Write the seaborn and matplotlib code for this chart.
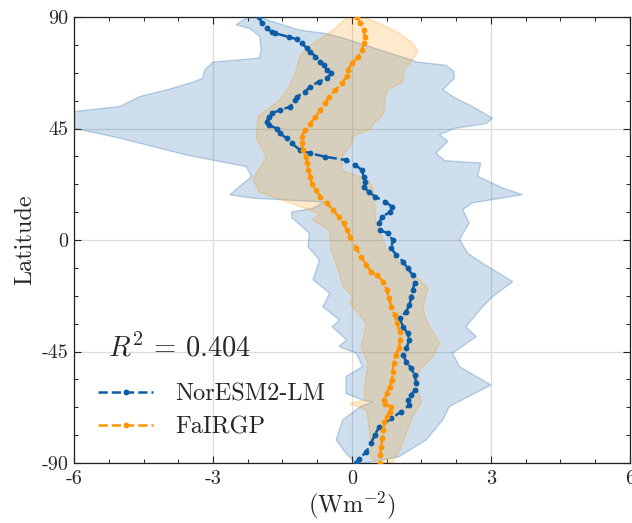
import numpy as np
import matplotlib
matplotlib.use("Agg")
import matplotlib.pyplot as plt
import seaborn as sns
from matplotlib.ticker import AutoMinorLocator

# ---------------- data ----------------
lat_nor = [90, 87.4, 85.4, 84, 83.4, 82, 81, 79.4, 77.3, 76, 74, 72, 70.6, 68.6, 67.3,
           65.2, 63.9, 61.9, 59.9, 57.8, 56.5, 53.8, 52.5, 51.1, 49.8, 47.8, 46.4, 45, 43,
           41, 39, 36.3, 35, 33.6, 32.3, 30.2, 28.2, 25.5, 23.5, 21.5, 19.5, 17.5, 15.4,
           13.4, 11.4, 9.4, 6.7, 4, 2.7, 0, -3.4, -6, -8.7, -11.4, -14.1, -17.5, -20.2,
           -22.9, -26.2, -28.9, -31.6, -35, -37.7, -40.4, -43.7, -46.4, -49.1, -51.8,
           -54.5, -57.9, -60.6, -62.6, -64.6, -66.6, -69.3, -72, -75.4, -78.7, -82.1,
           -85.5, -88.2, -90]
val_nor = [-2.0, -1.95, -1.84, -1.73, -1.66, -1.37, -1.19, -1.08, -0.97, -0.9, -0.79,
           -0.68, -0.61, -0.54, -0.45, -0.54, -0.72, -0.9, -1.01, -1.19, -1.23, -1.33,
           -1.55, -1.73, -1.8, -1.84, -1.8, -1.62, -1.55, -1.41, -1.3, -1.12, -0.9, -0.58,
           -0.14, 0.07, 0.22, 0.25, 0.29, 0.25, 0.36, 0.5, 0.72, 0.87, 0.83, 0.65, 0.58,
           0.61, 0.77, 0.88, 0.85, 0.95, 1.1, 1.2, 1.31, 1.35, 1.31, 1.28, 1.24, 1.17,
           1.03, 1.1, 1.2, 1.24, 1.17, 1.1, 1.17, 1.28, 1.35, 1.39, 1.35, 1.28, 1.2, 1.24,
           1.06, 0.85, 0.59, 0.49, 0.41, 0.31, 0.16, 0.08]

lat_fair = [90, 87.4, 84.8, 82, 79.4, 76.7, 74, 71.3, 68.6, 66, 63.2, 60.5, 57.8, 55.1,
            52.5, 49.8, 47, 44.4, 41.7, 39, 36.3, 33.6, 30.9, 28.2, 25.5, 22.8, 20.2, 17.5,
            14.8, 12.1, 9.4, 6.7, 4, 1.3, -3.4, -6.7, -10.1, -12.8, -14.1, -16.8, -20.2,
            -23.6, -26.9, -30.3, -33.6, -37, -40.4, -43.7, -46.4, -49.8, -53.2, -56.5,
            -59.2, -61.9, -64.6, -66, -67.3, -69.3, -71.3, -73.4, -76.7, -80.1, -83.4,
            -86.8, -90]
val_fair = [0.11, 0.18, 0.25, 0.27, 0.25, 0.22, 0.14, 0.0, -0.09, -0.11, -0.22, -0.36,
            -0.5, -0.58, -0.68, -0.79, -0.9, -1.02, -1.08, -1.08, -1.05, -1.0, -0.97, -0.94,
            -0.9, -0.87, -0.78, -0.68, -0.54, -0.4, -0.29, -0.18, -0.11, -0.04, 0.09, 0.2,
            0.31, 0.41, 0.54, 0.67, 0.75, 0.8, 0.85, 0.92, 0.97, 1.03, 1.04, 1.01, 0.94,
            0.9, 0.88, 0.86, 0.81, 0.75, 0.7, 0.72, 0.85, 0.81, 0.75, 0.7, 0.67, 0.65,
            0.63, 0.61, 0.61]

# NorESM2-LM spread (lower / upper edge)
nor_lo_lat = [90, 88.8, 86.8, 85.4, 82.1, 76.7, 73.4, 71.8, 68.6, 65.3, 63.9, 60.6, 57.9,
              53.9, 51.8, 48.5, 45.1, 41.1, 34.3, 29.6, 25.6, 18.2, 16.9, 15.3, 12.8, 11.3,
              9, 8.1, 2.7, -2.7, -8.1, -16.1, -21.5, -26.9, -32.3, -35, -40.3, -43, -45.7,
              -51.1, -55.1, -61.9, -64.6, -65.5, -67, -72.6, -80.7, -86.1, -90]
nor_lo_val = [-2.2, -2.35, -2.5, -2.21, -1.99, -1.96, -2.0, -3.0, -3.18, -3.22, -3.4,
              -4.0, -4.58, -5.01, -6.0, -6.3, -6.0, -5.01, -3.57, -2.28, -2.17, -2.64,
              -2.14, -0.6, -0.85, -1.3, -1.3, -1.24, -0.92, -0.95, -0.7, -0.84, -0.48,
              -0.63, -0.27, -0.43, -0.12, -0.28, 0.09, 0.23, -0.13, -0.13, 0.23, 0.45,
              0.2, -0.2, -0.34, -0.13, 0.09]
nor_hi_lat = [90, 88.8, 84.7, 83.3, 81.6, 77, 72.5, 71.9, 70.5, 68, 65.3, 60.6, 57.2,
              53.9, 49.2, 47, 45, 42.5, 39.8, 35.1, 32, 31.1, 25.7, 21, 18.3, 15, 12.3, 6.9,
              0.2, -5.4, -9.4, -16.8, -22.9, -26.9, -35, -39, -45.7, -51.1, -58.5, -67.2,
              -72.6, -80.7, -87.4, -90]
nor_hi_val = [-1.95, -1.83, -1.13, -0.56, -0.2, 0.55, 1.31, 1.38, 2.03, 2.2, 2.21, 1.96,
              2.24, 2.6, 3.03, 2.9, 2.2, 1.89, 2.07, 1.81, 2.0, 2.78, 2.71, 3.25, 3.68, 2.6,
              2.39, 2.53, 2.32, 2.5, 2.82, 3.47, 3.03, 2.82, 2.46, 2.68, 2.17, 2.32, 3.0,
              2.1, 1.96, 1.6, 1.02, 0.3]

# FaIRGP spread (lower / upper edge)
fair_lo_lat = [90, 84.6, 79.4, 74, 68.6, 61.9, 56.5, 49.8, 41.4, 33.3, 24.6, 19.3,
               14.6, 10.6, 8.1, 4, -4, -13.5, -18.8, -22.9, -25.5, -33.6, -43.1, -49.8,
               -60.6, -64.6, -66, -68.6, -76.7, -87.5, -90]
fair_lo_val = [-0.09, -0.41, -0.84, -1.13, -1.2, -1.35, -1.56, -2.03, -2.07, -1.85,
               -2.14, -1.99, -1.28, -0.7, -0.85, -0.49, -0.45, -0.27, -0.2, 0.02, -0.05,
               0.31, 0.2, 0.34, 0.27, 0.27, -0.05, 0.31, 0.38, 0.41, 0.52]
fair_hi_lat = [90, 87.5, 83.5, 79.4, 76.1, 72.7, 68.6, 64, 60.6, 57.8, 54, 51.1,
               47.9, 44.4, 41.9, 39, 33.8, 28.2, 24.2, 20.2, 13.4, 6.7, 4, -4, -9.4, -16.2,
               -19.5, -26.9, -32.3, -41.7, -47.1, -52.5, -59.2, -65.9, -71.3, -78, -84.8,
               -90]
fair_hi_val = [0.23, 0.59, 1.02, 1.31, 1.42, 1.31, 1.13, 1.1, 0.77, 0.72, 0.7, 0.69,
               0.52, 0.36, 0.02, 0.0, -0.2, -0.22, 0.36, 0.47, 0.49, 0.52, 0.59, 0.74, 1.03,
               1.46, 1.64, 1.53, 1.6, 1.89, 1.74, 1.46, 1.42, 1.49, 1.31, 1.17, 1.03, 0.88]

labels = ["NorESM2-LM", "FaIRGP"]
r2_text = r"$R^2\,=\,0.404$"
xticks = [-6, -3, 0, 3, 6]
yticks = [-90, -45, 0, 45, 90]

# ---------------- style ----------------
sns.set_style("ticks")
plt.rcParams.update({
    "font.family": "serif",
    "font.serif": ["cmr10"],
    "mathtext.fontset": "cm",
    "axes.unicode_minus": False,
    "axes.formatter.use_mathtext": True,
    "xtick.direction": "in",
    "ytick.direction": "in",
    "xtick.top": True,
    "ytick.right": True,
})

c_blue = "#0C5DA5"
c_orange = "#FF9500"

fig = plt.figure(figsize=(6.32, 5.23), dpi=100)
ax = fig.add_axes([0.1171, 0.1147, 0.8797, 0.8528])

# spreads
for lo_v, lo_l, hi_v, hi_l, col, z in [
        (nor_lo_val, nor_lo_lat, nor_hi_val, nor_hi_lat, c_blue, 1.0),
        (fair_lo_val, fair_lo_lat, fair_hi_val, fair_hi_lat, c_orange, 1.1)]:
    px = np.r_[lo_v, hi_v[::-1]]
    py = np.r_[lo_l, hi_l[::-1]]
    ax.fill(px, py, facecolor=col, alpha=0.2, edgecolor="none", zorder=z)
    ax.fill(px, py, facecolor="none", edgecolor=col, alpha=0.25, lw=1.0, zorder=z)

# mean profiles
for vals, lats, col, lab in [(val_nor, lat_nor, c_blue, labels[0]),
                             (val_fair, lat_fair, c_orange, labels[1])]:
    sns.lineplot(x=vals, y=lats, sort=False, estimator=None, ax=ax, color=col,
                 label=lab, marker="o", markersize=4.2, markeredgewidth=0,
                 linewidth=1.8, zorder=3)
    ax.lines[-1].set_linestyle("--")

ax.set_xlim(-6, 6)
ax.set_ylim(-90, 90)
ax.set_xticks(xticks)
ax.set_yticks(yticks)
ax.set_xticklabels([str(v) for v in xticks])
ax.set_yticklabels([str(v) for v in yticks])
ax.xaxis.set_minor_locator(AutoMinorLocator(4))
ax.yaxis.set_minor_locator(AutoMinorLocator(4))
ax.tick_params(which="major", length=5, width=0.8, labelsize=14.5, pad=5, color="#222222")
ax.tick_params(which="minor", length=2.8, width=0.7, color="#222222")
ax.tick_params(axis="y", pad=4)
for sp in ax.spines.values():
    sp.set_linewidth(0.9)
    sp.set_color("#222222")
ax.grid(True, which="major", color="#dcdcdc", linewidth=0.9, zorder=0)
ax.set_axisbelow(True)

ax.set_ylabel("Latitude", fontsize=17.5, labelpad=4)
ax.set_xlabel(r"(Wm$^{-2}$)", fontsize=17.5, labelpad=1)

ax.text(0.061, 0.2377, r2_text, transform=ax.transAxes, fontsize=20.5,
        ha="left", va="baseline", zorder=5)

leg = ax.legend(loc="lower left", frameon=False, fontsize=17.5,
                handlelength=2.25, handletextpad=0.9,
                labelspacing=0.45, borderaxespad=0.6)
for h in leg.legend_handles:
    h.set_linestyle("--")

fig.savefig("out.png", dpi=100)
